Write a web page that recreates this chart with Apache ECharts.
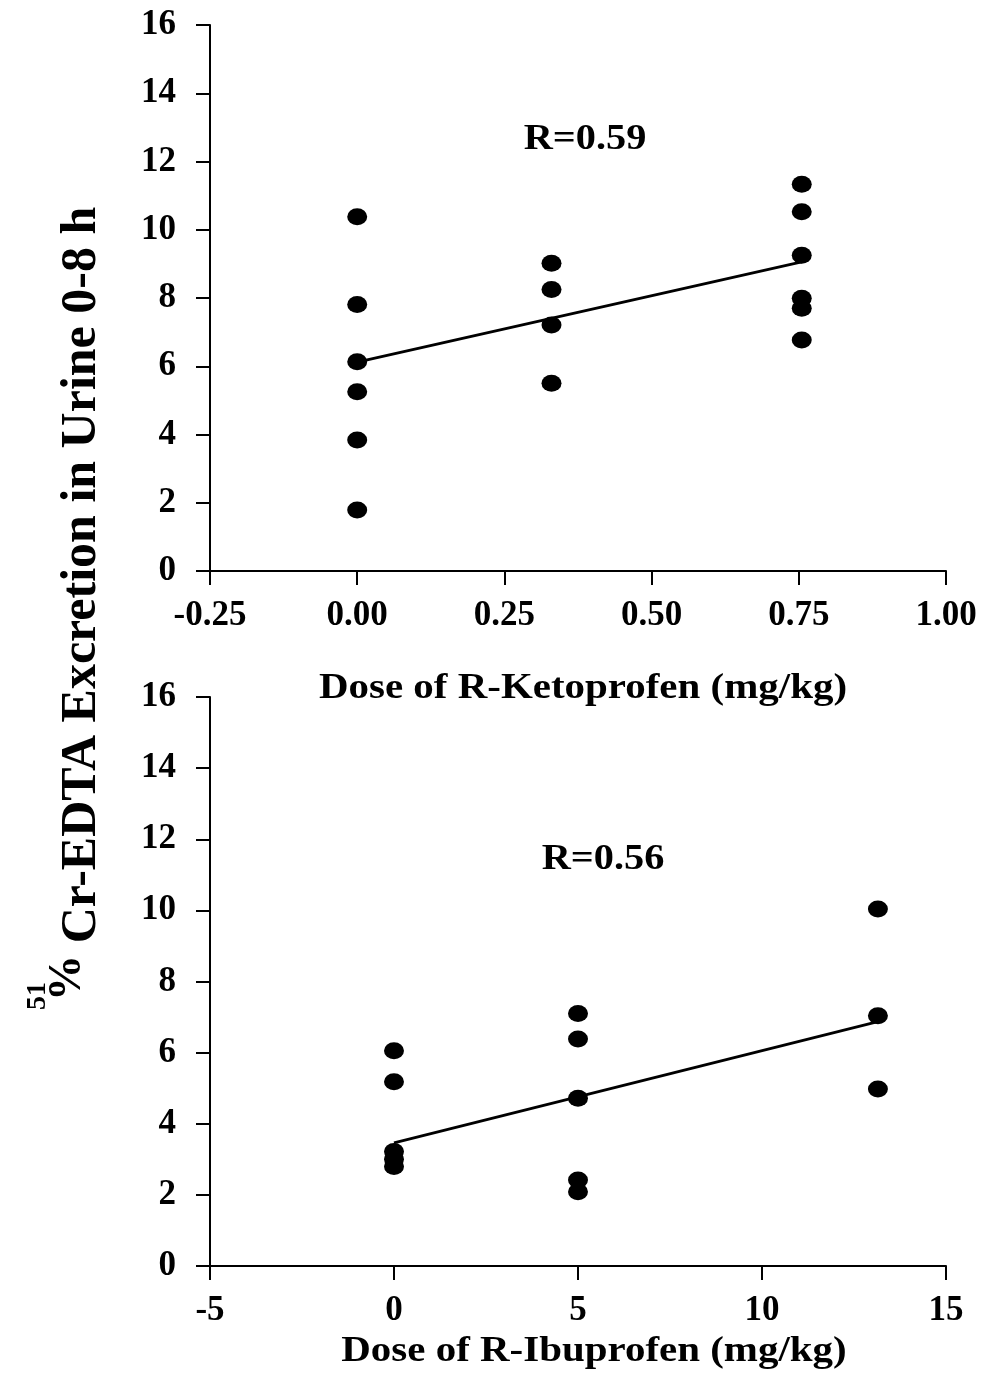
<!DOCTYPE html>
<html>
<head>
<meta charset="utf-8">
<script src="https://cdn.jsdelivr.net/npm/echarts@6/dist/echarts.min.js"></script>
<style>html,body{margin:0;padding:0;background:#fff;}#c{width:984px;height:1374px;}</style>
</head>
<body>
<div id="c"></div>
<script>
// Top panel: R-Ketoprofen
var ketoDoseTicks = [-0.25, 0, 0.25, 0.5, 0.75, 1.0];
var ketoPoints = [
  [0, 10.38], [0, 7.81], [0, 6.13], [0, 5.25], [0, 3.84], [0, 1.79],
  [0.33, 9.02], [0.33, 8.25], [0.33, 7.21], [0.33, 5.50],
  [0.755, 11.33], [0.755, 10.53], [0.755, 9.25], [0.755, 7.99], [0.755, 7.70], [0.755, 6.77]
];
var ketoFitX = [0, 0.755];
var ketoFitY = [6.12, 9.06];
var ketoR = 'R=0.59';

// Bottom panel: R-Ibuprofen
var ibuPoints = [
  [0, 6.05], [0, 5.18], [0, 3.22], [0, 3.0], [0, 2.80],
  [5, 7.10], [5, 6.38], [5, 4.72], [5, 2.42], [5, 2.09],
  [13.15, 10.04], [13.15, 7.04], [13.15, 4.98]
];
var ibuFitX = [0, 13.15];
var ibuFitY = [3.46, 6.87];
var ibuR = 'R=0.56';

var yLabelMain = 'Cr-EDTA Excretion in Urine 0-8 h';
var xLabelTop = 'Dose of R-Ketoprofen (mg/kg)';
var xLabelBottom = 'Dose of R-Ibuprofen (mg/kg)';

var FONT = '"Liberation Serif", "Times New Roman", serif';

function zip(xs, ys) { return xs.map(function (x, i) { return [x, ys[i]]; }); }

var axisCommon = {
  axisLine: { show: true, onZero: false, lineStyle: { color: '#000', width: 2 } },
  axisTick: { show: true, inside: false, length: 14, lineStyle: { color: '#000', width: 2 } },
  splitLine: { show: false },
  axisLabel: { color: '#000', fontFamily: FONT, fontWeight: 'bold', fontSize: 35 }
};

function yAxis(idx) {
  return Object.assign({}, JSON.parse(JSON.stringify(axisCommon)), {
    type: 'value', gridIndex: idx, min: 0, max: 16, interval: 2,
    axisLabel: Object.assign({}, axisCommon.axisLabel, { margin: 34 })
  });
}

var dotStyle = { color: '#000', opacity: 1 };

var option = {
  backgroundColor: '#fff',
  animation: false,
  grid: [
    { left: 210, right: 38, top: 25, height: 546 },
    { left: 210, right: 38, top: 697, height: 569 }
  ],
  xAxis: [
    Object.assign({}, JSON.parse(JSON.stringify(axisCommon)), {
      type: 'value', gridIndex: 0, min: -0.25, max: 1.0, interval: 0.25,
      axisLabel: Object.assign({}, axisCommon.axisLabel, { margin: 27, formatter: function (v) { return v.toFixed(2); } })
    }),
    Object.assign({}, JSON.parse(JSON.stringify(axisCommon)), {
      type: 'value', gridIndex: 1, min: -5, max: 15, interval: 5,
      axisLabel: Object.assign({}, axisCommon.axisLabel, { margin: 27 })
    })
  ],
  yAxis: [yAxis(0), yAxis(1)],
  series: [
    { type: 'line', xAxisIndex: 0, yAxisIndex: 0, data: zip(ketoFitX, ketoFitY), symbol: 'none', lineStyle: { color: '#000', width: 2.8 }, z: 2 },
    { type: 'scatter', xAxisIndex: 0, yAxisIndex: 0, data: ketoPoints, symbol: 'circle', symbolSize: [20, 17], itemStyle: dotStyle, emphasis: { disabled: true }, z: 3 },
    { type: 'line', xAxisIndex: 1, yAxisIndex: 1, data: zip(ibuFitX, ibuFitY), symbol: 'none', lineStyle: { color: '#000', width: 2.8 }, z: 2 },
    { type: 'scatter', xAxisIndex: 1, yAxisIndex: 1, data: ibuPoints, symbol: 'circle', symbolSize: [20, 17], itemStyle: dotStyle, emphasis: { disabled: true }, z: 3 }
  ],
  graphic: [
    { type: 'text', x: 585, y: 140, style: { text: ketoR, font: 'bold 36px ' + FONT, fill: '#000', align: 'center', verticalAlign: 'middle' }, scaleX: 1.12 },
    { type: 'text', x: 603, y: 860, style: { text: ibuR, font: 'bold 36px ' + FONT, fill: '#000', align: 'center', verticalAlign: 'middle' }, scaleX: 1.12 },
    { type: 'text', x: 583, y: 689, style: { text: xLabelTop, font: 'bold 35px ' + FONT, fill: '#000', align: 'center', verticalAlign: 'middle' }, scaleX: 1.17 },
    { type: 'text', x: 594, y: 1352, style: { text: xLabelBottom, font: 'bold 35px ' + FONT, fill: '#000', align: 'center', verticalAlign: 'middle' }, scaleX: 1.17 },
    { type: 'text', x: 82, y: 575, rotation: Math.PI / 2, style: { text: yLabelMain, font: 'bold 50px ' + FONT, fill: '#000', align: 'center', verticalAlign: 'middle' } },
    { type: 'text', x: 68, y: 978, rotation: Math.PI / 2, style: { text: '%', font: 'bold 46px ' + FONT, fill: '#000', align: 'center', verticalAlign: 'middle' } },
    { type: 'text', x: 38, y: 996, rotation: Math.PI / 2, style: { text: '51', font: 'bold 28px ' + FONT, fill: '#000', align: 'center', verticalAlign: 'middle' } }
  ]
};

var chart = echarts.init(document.getElementById('c'), null, { renderer: 'canvas' });
chart.setOption(option);
</script>
</body>
</html>
